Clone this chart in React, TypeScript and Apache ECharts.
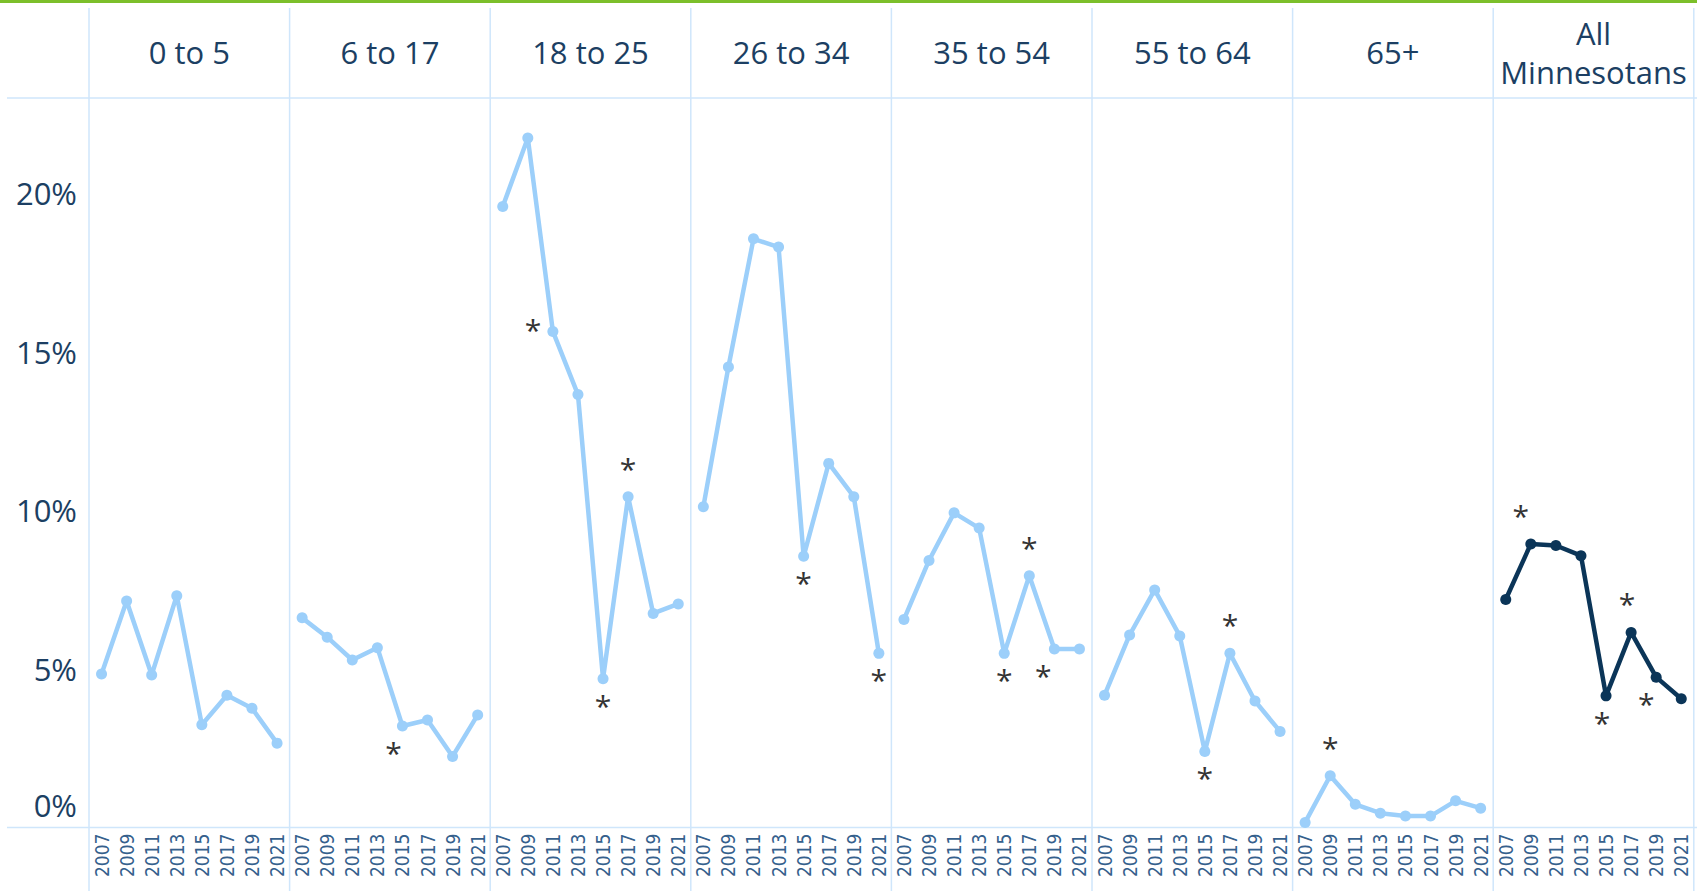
import React, { useEffect, useRef } from "react";
import * as echarts from "echarts";

// ---------- data ----------
const years = ["2007", "2009", "2011", "2013", "2015", "2017", "2019", "2021"];
const panelTitles = ["0 to 5", "6 to 17", "18 to 25", "26 to 34", "35 to 54", "55 to 64", "65+", "All\nMinnesotans"];
const yTicks = [0, 5, 10, 15, 20];

const age0to5 = [4.84, 7.14, 4.81, 7.31, 3.24, 4.17, 3.76, 2.66];
const age6to17 = [6.61, 6.0, 5.28, 5.67, 3.2, 3.39, 2.24, 3.55];
const age18to25 = [19.58, 21.74, 15.64, 13.65, 4.69, 10.43, 6.75, 7.05];
const age26to34 = [10.11, 14.52, 18.56, 18.3, 8.55, 11.48, 10.43, 5.49];
const age35to54 = [6.56, 8.42, 9.92, 9.44, 5.49, 7.94, 5.63, 5.63];
const age55to64 = [4.17, 6.07, 7.49, 6.04, 2.4, 5.49, 3.99, 3.03];
const age65plus = [0.16, 1.63, 0.73, 0.45, 0.36, 0.36, 0.84, 0.61];
const allMinnesotans = [7.19, 8.94, 8.89, 8.57, 4.15, 6.15, 4.74, 4.06];

// indices of years marked with an asterisk, per panel
const starred0to5: number[] = [];
const starred6to17 = [4];
const starred18to25 = [2, 4, 5];
const starred26to34 = [4, 7];
const starred35to54 = [4, 5, 6];
const starred55to64 = [4, 5];
const starred65plus = [1];
const starredAll = [1, 4, 5, 6];

const panelValues = [age0to5, age6to17, age18to25, age26to34, age35to54, age55to64, age65plus, allMinnesotans];
const panelStars = [starred0to5, starred6to17, starred18to25, starred26to34, starred35to54, starred55to64, starred65plus, starredAll];

// ---------- layout / style ----------
const W = 1697;
const H = 891;
const LEFT = 89;
const PW = 200.6;
const TOP = 98;
const AXIS_Y = 827.5;
const LIGHT = "#9ccffa";
const DARK = "#0b3558";
const GRIDC = "#cfe6fb";
const TEXTC = "#1c3f63";
const FONT = "'Open Sans', sans-serif";

// where the asterisk sits relative to its point: [position, dx, dy]
const UP = -4;
const DOWN = 2;
const starPlace: Record<string, [string, number, number]> = {
  "1-4": ["bottom", -9, DOWN],
  "2-2": ["left", -2, -2],
  "2-4": ["bottom", 0, DOWN],
  "2-5": ["top", 0, UP],
  "3-4": ["bottom", 0, DOWN],
  "3-7": ["bottom", 0, DOWN],
  "4-4": ["bottom", 0, DOWN],
  "4-5": ["top", 0, UP],
  "4-6": ["bottom", -11, DOWN],
  "5-4": ["bottom", 0, DOWN],
  "5-5": ["top", 0, UP],
  "6-1": ["top", 0, UP],
  "7-1": ["top", -10, UP],
  "7-4": ["bottom", -4, DOWN],
  "7-5": ["top", -4, UP],
  "7-6": ["bottom", -10, DOWN],
};

export default function App() {
  const ref = useRef<HTMLDivElement>(null);
  useEffect(() => {
    if (!ref.current) return;
    const chart = echarts.init(ref.current, undefined, { renderer: "svg" });

    const grids: any[] = [];
    const xAxes: any[] = [];
    const yAxes: any[] = [];
    const series: any[] = [];
    const graphics: any[] = [];

    panelValues.forEach((vals, i) => {
      grids.push({ left: LEFT + i * PW, top: TOP, width: PW, height: AXIS_Y - TOP });
      xAxes.push({
        type: "category",
        gridIndex: i,
        data: years,
        boundaryGap: true,
        axisLine: { show: false },
        axisTick: { show: false },
        splitLine: { show: false },
        axisLabel: {
          interval: 0,
          rotate: 90,
          margin: 6,
          fontSize: 19,
          fontFamily: "'Liberation Sans Narrow', 'DejaVu Sans Condensed', sans-serif",
          color: "#35608c",
        },
      });
      yAxes.push({
        type: "value",
        gridIndex: i,
        min: 0,
        max: 23,
        interval: 5,
        show: i === 0,
        axisLine: { show: false },
        axisTick: { show: false },
        splitLine: { show: false },
        axisLabel: {
          margin: 12,
          fontSize: 31,
          fontFamily: FONT,
          color: TEXTC,
          formatter: (v: number) => {
            if (!yTicks.includes(v)) return "";
            return v === 0 ? "{z|0%}" : v + "%";
          },
          rich: {
            z: { fontSize: 31, fontFamily: FONT, color: TEXTC, padding: [0, 0, 46, 0] },
          },
        },
      });
      const isAll = i === panelValues.length - 1;
      const color = isAll ? DARK : LIGHT;
      const stars = panelStars[i];
      series.push({
        type: "line",
        xAxisIndex: i,
        yAxisIndex: i,
        symbol: "circle",
        symbolSize: 11,
        lineStyle: { width: 4.5, color },
        itemStyle: { color },
        label: { show: false },
        data: vals.map((v, j) => {
          if (!stars.includes(j)) return v;
          const p = starPlace[i + "-" + j] || ["top", 0, 0];
          return {
            value: v,
            label: {
              show: true,
              formatter: "*",
              position: p[0],
              distance: 4,
              offset: [p[1], p[2]],
              fontSize: 30,
              fontFamily: FONT,
              color: "#333333",
            },
          };
        }),
      });
      graphics.push({
        type: "text",
        x: LEFT + i * PW + PW / 2,
        y: 52,
        style: {
          text: panelTitles[i],
          fontSize: 31,
          fontFamily: FONT,
          fill: TEXTC,
          align: "center",
          verticalAlign: "middle",
          lineHeight: 39,
        },
      });
    });

    // panel separators
    for (let i = 0; i <= panelValues.length; i++) {
      const x = LEFT + i * PW;
      graphics.push({
        type: "line",
        shape: { x1: x, y1: 8, x2: x, y2: H },
        style: { stroke: GRIDC, lineWidth: 1.5 },
        silent: true,
      });
    }
    graphics.push({
      type: "line",
      shape: { x1: 7, y1: TOP, x2: W, y2: TOP },
      style: { stroke: GRIDC, lineWidth: 1.5 },
      silent: true,
    });
    graphics.push({
      type: "line",
      shape: { x1: 7, y1: AXIS_Y, x2: W, y2: AXIS_Y },
      style: { stroke: GRIDC, lineWidth: 1.5 },
      silent: true,
    });
    graphics.push({
      type: "rect",
      shape: { x: 0, y: 0, width: W, height: 3 },
      style: { fill: "#7cbf2a" },
      silent: true,
    });

    chart.setOption({
      animation: false,
      backgroundColor: "#ffffff",
      grid: grids,
      xAxis: xAxes,
      yAxis: yAxes,
      series,
      graphic: graphics,
    });
    return () => chart.dispose();
  }, []);
  return <div ref={ref} style={{ position: "fixed", left: 0, top: 0, width: W, height: H }} />;
}
